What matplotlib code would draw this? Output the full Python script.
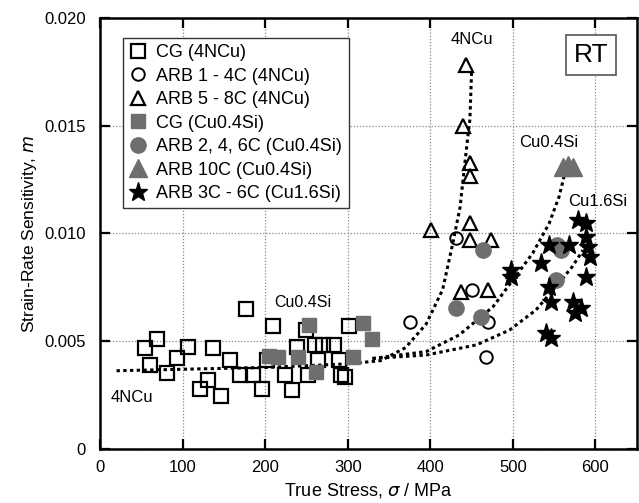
import numpy as np
import matplotlib.pyplot as plt

plt.rcParams['font.family'] = ['Liberation Sans', 'DejaVu Sans']

# CG (4NCu) - open squares
cg4_s = [54, 69, 60, 81, 93, 107, 121, 131, 147, 137, 157, 177, 210, 169, 185, 196, 202,
         224, 232, 238, 249, 260, 270, 284, 264, 252, 292, 290, 302, 297]
cg4_m = [0.00467, 0.00510, 0.00390, 0.00351, 0.00421, 0.00472, 0.00278, 0.00320, 0.00246,
         0.00467, 0.00415, 0.00650, 0.00571, 0.00343, 0.00343, 0.00278, 0.00413, 0.00343,
         0.00274, 0.00475, 0.00552, 0.00483, 0.00483, 0.00483, 0.00413, 0.00343, 0.00343,
         0.00413, 0.00571, 0.00335]

# ARB 1 - 4C (4NCu) - open circles
arb14_s = [431, 450, 375, 470, 468]
arb14_m = [0.00978, 0.00738, 0.00590, 0.00590, 0.00428]

# ARB 5 - 8C (4NCu) - open triangles
arb58_s = [443, 440, 448, 448, 401, 448, 448, 474, 437, 470]
arb58_m = [0.01782, 0.01499, 0.01326, 0.01267, 0.01016, 0.01047, 0.00970, 0.00970,
           0.00730, 0.00738]

# CG (Cu0.4Si) - gray squares
cgsi_s = [205, 215, 240, 253, 262, 306, 318, 330]
cgsi_m = [0.00430, 0.00425, 0.00428, 0.00575, 0.00357, 0.00428, 0.00585, 0.00509]

# ARB 2, 4, 6C (Cu0.4Si) - gray circles
arb246_s = [464, 431, 462, 554, 558, 552]
arb246_m = [0.00923, 0.00653, 0.00614, 0.00947, 0.00923, 0.00784]

# ARB 10C (Cu0.4Si) - gray triangles
arb10_s = [561, 567, 573]
arb10_m = [0.0131, 0.0132, 0.0131]

# ARB 3C - 6C (Cu1.6Si) - stars
arb36_s = [579, 589, 589, 591, 593, 589, 568, 544, 534, 498, 498, 544, 546, 573, 583,
           575, 540, 546]
arb36_m = [0.01063, 0.01047, 0.00985, 0.00939, 0.00892, 0.00800, 0.00947, 0.00947,
           0.00862, 0.00831, 0.00800, 0.00753, 0.00684, 0.00684, 0.00653, 0.00630,
           0.00537, 0.00514]

# dotted guide lines
fit4_s = [20, 100, 200, 300, 340, 370, 395, 415, 427, 436, 444, 448, 450]
fit4_m = [0.00363, 0.0037, 0.00378, 0.00395, 0.0041, 0.0047, 0.0058, 0.0074, 0.0095,
          0.0112, 0.0140, 0.0153, 0.0175]
fitsi_s = [330, 395, 435, 476, 500, 524, 544, 556, 563]
fitsi_m = [0.0042, 0.00452, 0.00529, 0.0066, 0.00784, 0.00908, 0.01047, 0.01171, 0.0128]
fit16_s = [330, 395, 456, 496, 528, 552, 572, 585]
fit16_m = [0.0042, 0.00436, 0.00483, 0.00552, 0.00645, 0.00753, 0.00846, 0.00923]

gray = '#6e6e6e'

fig = plt.figure(figsize=(6.39, 5.03), dpi=100)
ax = fig.add_axes([0.1565, 0.1074, 0.8399, 0.8568])

for fs, fm in [(fit4_s, fit4_m), (fitsi_s, fitsi_m), (fit16_s, fit16_m)]:
    ax.plot(fs, fm, color='black', lw=2.2, ls=(0, (1.1, 1.1)), zorder=2)

ax.plot(cg4_s, cg4_m, 's', ms=9.5, mfc='none', mec='black', mew=1.6, label='CG (4NCu)', zorder=3)
ax.plot(arb14_s, arb14_m, 'o', ms=9, mfc='none', mec='black', mew=1.4, label='ARB 1 - 4C (4NCu)', zorder=3)
ax.plot(arb58_s, arb58_m, '^', ms=10.5, mfc='none', mec='black', mew=1.6, label='ARB 5 - 8C (4NCu)', zorder=3)
ax.plot(cgsi_s, cgsi_m, 's', ms=10, color=gray, mec=gray, label='CG (Cu0.4Si)', zorder=4)
ax.plot(arb246_s, arb246_m, 'o', ms=11, color=gray, mec=gray, label='ARB 2, 4, 6C (Cu0.4Si)', zorder=4)
ax.plot(arb10_s, arb10_m, '^', ms=13, color=gray, mec=gray, label='ARB 10C (Cu0.4Si)', zorder=4)
ax.plot(arb36_s, arb36_m, '*', ms=14, color='black', mec='black', label='ARB 3C - 6C (Cu1.6Si)', zorder=5)

ax.set_xlim(0, 650)
ax.set_ylim(0, 0.020)
ax.set_xticks([0, 100, 200, 300, 400, 500, 600])
ax.set_yticks([0, 0.005, 0.010, 0.015, 0.020])
ax.set_yticklabels(['0', '0.005', '0.010', '0.015', '0.020'])
ax.tick_params(direction='in', top=True, right=True, length=7, width=1.6, labelsize=12)
ax.tick_params(axis='y', pad=10)
ax.tick_params(axis='x', pad=8)
for sp in ax.spines.values():
    sp.set_linewidth(1.8)
ax.grid(True, color='#888888', ls=(0, (1, 1.5)), lw=0.9)
ax.set_axisbelow(True)

ax.set_xlabel('True Stress, $\\sigma$ / MPa', fontsize=13, labelpad=4)
ax.set_ylabel('Strain-Rate Sensitivity, $m$', fontsize=12.5, labelpad=4)

ax.text(451, 0.0190, '4NCu', ha='center', va='center', fontsize=12)
ax.text(544, 0.0142, 'Cu0.4Si', ha='center', va='center', fontsize=12)
ax.text(603, 0.0115, 'Cu1.6Si', ha='center', va='center', fontsize=12)
ax.text(246, 0.0068, 'Cu0.4Si', ha='center', va='center', fontsize=11.5)
ax.text(39, 0.0024, '4NCu', ha='center', va='center', fontsize=12)
ax.text(0.9145, 0.914, 'RT', transform=ax.transAxes, ha='center', va='center', fontsize=19,
        bbox=dict(boxstyle='square,pad=0.3', fc='white', ec='#555555', lw=1.2))

leg = ax.legend(loc='upper left', bbox_to_anchor=(0.043, 0.954), borderaxespad=0,
                fontsize=13, fancybox=False, edgecolor='#333333', framealpha=1,
                handlelength=1.0, handletextpad=0.5, labelspacing=0.36, borderpad=0.35)
leg.get_frame().set_linewidth(1.0)

plt.savefig('out.png', dpi=100)
